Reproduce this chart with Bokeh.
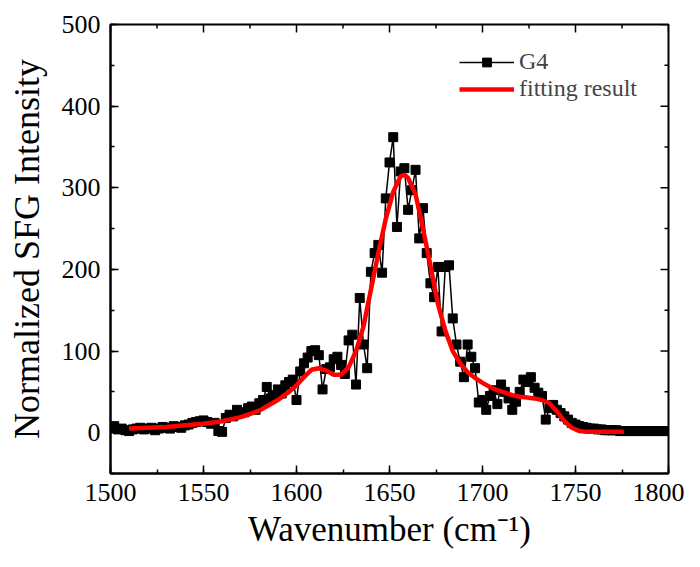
import math
from bokeh.plotting import figure
from bokeh.models import Range1d, SingleIntervalTicker, Legend, LegendItem
from bokeh.embed import file_html
from bokeh.resources import INLINE

# Measured data (G4), wavenumber in cm^-1
wavenumber = list(range(1500, 1802, 2))
intensity = [
    6, 8, 4, 5, 3, 2, 4, 5, 6, 4,
    5, 6, 3, 5, 7, 6, 5, 8, 7, 6,
    9, 10, 12, 13, 14, 15, 13, 11, 12, 2,
    1, 18, 22, 20, 28, 24, 25, 30, 32, 28,
    36, 40, 56, 42, 46, 53, 48, 58, 62, 65,
    40, 75, 85, 92, 100, 101, 95, 53, 78, 80,
    90, 93, 83, 72, 113, 120, 59, 165, 108, 79,
    197, 220, 230, 196, 287, 331, 362, 252, 320, 324,
    273, 297, 322, 238, 275, 220, 183, 166, 203, 124,
    203, 205, 140, 108, 87, 68, 108, 93, 79, 37,
    40, 28, 45, 52, 35, 59, 50, 42, 28, 38,
    50, 65, 62, 68, 55, 49, 45, 16, 30, 34,
    28, 24, 20, 16, 12, 10, 8, 7, 6, 5,
    5, 4, 4, 3, 3, 3, 3, 2, 2, 2,
    2, 2, 2, 2, 2, 2, 2, 2, 2, 2,
    2,
]

# Fitting result
fit_x = [1510, 1520, 1530, 1540, 1550, 1560, 1570, 1580, 1590, 1596,
         1600, 1604, 1608, 1612, 1616, 1620, 1624, 1628, 1632, 1636,
         1640, 1644, 1648, 1652, 1656, 1658, 1660, 1664, 1668, 1672,
         1676, 1680, 1684, 1688, 1692, 1696, 1700, 1704, 1708, 1712,
         1716, 1720, 1724, 1728, 1732, 1736, 1740, 1744, 1748, 1752,
         1756, 1764, 1776]
fit_y = [5, 6, 7, 9, 11, 14, 19, 27, 40, 50,
         58, 68, 77, 79, 76, 71, 71, 80, 100, 130,
         175, 220, 262, 295, 314, 316, 312, 292, 250, 205,
         158, 125, 100, 85, 74, 67, 61, 56, 52, 49,
         46, 44, 43, 42, 40, 36, 26, 14, 6, 2,
         1, 1, 1]

# Axis tick values
x_major_ticks = [1500, 1550, 1600, 1650, 1700, 1750, 1800]
x_minor_ticks = [1525, 1575, 1625, 1675, 1725, 1775]
y_major_ticks = [0, 100, 200, 300, 400, 500]
y_minor_ticks = [-50, 50, 150, 250, 350, 450]

X_START, X_END = 1500, 1800
Y_START, Y_END = -50, 500

FONT = "Liberation Serif"

p = figure(width=684, height=551, output_backend="svg", toolbar_location=None,
           x_range=Range1d(X_START, X_END), y_range=Range1d(Y_START, Y_END),
           min_border_left=110, min_border_right=16, min_border_top=24,
           min_border_bottom=77)

p.grid.visible = False
p.outline_line_color = "black"
p.outline_line_width = 2
p.background_fill_color = "white"
p.border_fill_color = "white"

line_r = p.line(wavenumber, intensity, line_color="black", line_width=1.5)
sq_r = p.scatter(wavenumber, intensity, marker="square", size=9,
                 fill_color="black", line_color="black")
fit_r = p.line(fit_x, fit_y, line_color="#ff0000", line_width=4.5)

# Inward ticks on the top and right edges (mirroring the axes)
p.scatter(x_major_ticks, [Y_END] * len(x_major_ticks), marker="dash", angle=math.pi / 2,
          size=16, line_color="black", line_width=1.5)
p.scatter(x_minor_ticks, [Y_END] * len(x_minor_ticks), marker="dash", angle=math.pi / 2,
          size=8, line_color="black", line_width=1.5)
p.scatter([X_END] * len(y_major_ticks), y_major_ticks, marker="dash",
          size=16, line_color="black", line_width=1.5)
p.scatter([X_END] * len(y_minor_ticks), y_minor_ticks, marker="dash",
          size=8, line_color="black", line_width=1.5)

def style_axis(ax):
    ax.axis_line_color = "black"
    ax.axis_line_width = 2
    ax.major_tick_in = 8
    ax.major_tick_out = 0
    ax.minor_tick_in = 4
    ax.minor_tick_out = 0
    ax.major_tick_line_width = 1.5
    ax.minor_tick_line_width = 1.5
    ax.major_label_text_font = FONT
    ax.major_label_text_font_size = "26px"
    ax.major_label_text_color = "black"
    ax.axis_label_text_font = FONT
    ax.axis_label_text_font_style = "normal"
    ax.axis_label_text_color = "black"

p.xaxis.ticker = SingleIntervalTicker(interval=50, num_minor_ticks=2)
p.yaxis.ticker = SingleIntervalTicker(interval=100, num_minor_ticks=2)
style_axis(p.xaxis[0])
style_axis(p.yaxis[0])
p.xaxis.axis_label = "Wavenumber (cm⁻¹)"
p.yaxis.axis_label = "Normalized SFG Intensity"
p.xaxis.axis_label_text_font_size = "35px"
p.yaxis.axis_label_text_font_size = "36px"
p.xaxis.major_label_standoff = 10
p.xaxis.axis_label_standoff = 6
p.yaxis.major_label_standoff = 10
p.yaxis.axis_label_standoff = 12

legend = Legend(items=[
    LegendItem(label="G4", renderers=[line_r, sq_r]),
    LegendItem(label="fitting result", renderers=[fit_r]),
], location=(349, 371))
legend.border_line_color = None
legend.background_fill_alpha = 0
legend.label_text_font = FONT
legend.label_text_font_size = "24px"
legend.glyph_width = 55
legend.glyph_height = 22
legend.label_standoff = 5
legend.spacing = 0
legend.padding = 6
p.add_layout(legend)

open("out.html", "w").write(file_html(p, INLINE))
